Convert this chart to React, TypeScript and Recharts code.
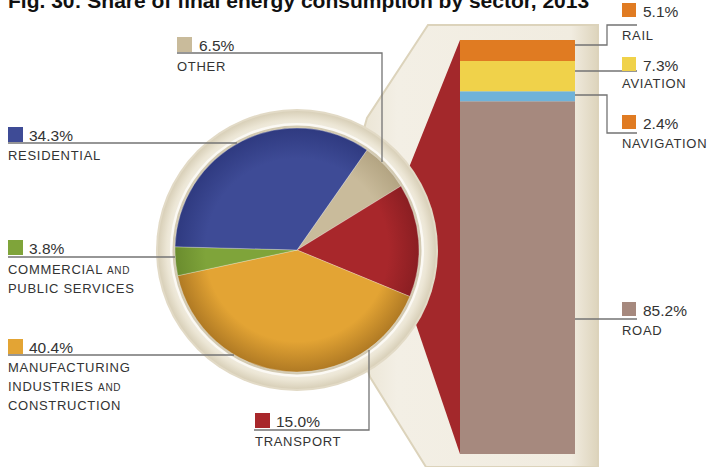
import { PieChart, Pie, Cell, BarChart, Bar, XAxis, YAxis } from "recharts";

// final energy consumption by sector (pie), clockwise from the top-right
const SECTORS = ["other", "transport", "manufacturing", "commercial", "residential"];
const SECTOR_SHARE = [6.5, 15.0, 40.4, 3.8, 34.3];
const SECTOR_LABELS = [
  ["OTHER"],
  ["TRANSPORT"],
  ["MANUFACTURING", "INDUSTRIES |AND", "CONSTRUCTION"],
  ["COMMERCIAL |AND", "PUBLIC SERVICES"],
  ["RESIDENTIAL"],
];

// transport split (stacked bar), bottom to top
const MODES = ["road", "navigation", "aviation", "rail"];
const MODE_SHARE = [85.2, 2.4, 7.3, 5.1];
const MODE_LABELS = ["ROAD", "NAVIGATION", "AVIATION", "RAIL"];

const TITLE = "Fig. 30: Share of final energy consumption by sector, 2013";

const SECTOR_COLORS: Record<string, string> = {
  other: "#c9bb9b",
  transport: "#a8272b",
  manufacturing: "#e3a434",
  commercial: "#7fa43a",
  residential: "#3e4b96",
};
const SECTOR_EDGE: Record<string, string> = {
  other: "#b3a482",
  transport: "#8a1e22",
  manufacturing: "#b07a24",
  commercial: "#6a8c2e",
  residential: "#2f3a80",
};
const MODE_COLORS: Record<string, string> = {
  road: "#a6897e",
  navigation: "#6fb2d9",
  aviation: "#f0d24a",
  rail: "#e07b22",
};
// the original uses an orange swatch for navigation
const MODE_SWATCH: Record<string, string> = { ...MODE_COLORS, navigation: "#e07b22" };

const FONT = "'Liberation Sans', Arial, sans-serif";
const INK = "#333";
const LINE = "#737373";

const CX = 297;
const CY = 250;
const R = 122;

// label layout: swatch corner, percent x, first name baseline, leader path
const SECTOR_LAYOUT: Record<string, { x: number; y: number; px: number; ny: number; path: string }> = {
  other: { x: 177, y: 37, px: 199, ny: 71, path: "M177,53 H382 V162" },
  transport: { x: 255, y: 413, px: 276, ny: 446, path: "M254,430 H369 V350" },
  manufacturing: { x: 8, y: 339, px: 29, ny: 372, path: "M8,355 H234" },
  commercial: { x: 8, y: 240, px: 29, ny: 274, path: "M8,257 H175" },
  residential: { x: 8, y: 127, px: 29, ny: 160, path: "M8,143 H237" },
};
const MODE_LAYOUT: Record<string, { y: number; ny: number; path: string }> = {
  rail: { y: 3, ny: 40, path: "M575,45 H607 V25 H637" },
  aviation: { y: 57, ny: 88, path: "M575,71 H637" },
  navigation: { y: 115, ny: 148, path: "M575,95 H607 V133 H637" },
  road: { y: 302, ny: 335, path: "M575,319 H637" },
};

const pieData = SECTORS.map((s, i) => ({ name: s, value: SECTOR_SHARE[i] }));
const barRow: Record<string, any> = { name: "transport" };
MODES.forEach((m, i) => (barRow[m] = MODE_SHARE[i]));
const barData = [barRow];

const pct = (v: number) => `${v.toFixed(1)}%`;

function NameLine({ text, x, y }: { text: string; x: number; y: number }) {
  const [head, small] = text.split("|");
  return (
    <text x={x} y={y} fontFamily={FONT} fontSize={13} letterSpacing={0.7} fill={INK}>
      {head}
      {small && <tspan fontSize={10}>{small}</tspan>}
    </text>
  );
}

export default function App() {
  return (
    <div
      style={{
        position: "absolute",
        left: 0,
        top: 0,
        width: 708,
        height: 467,
        overflow: "hidden",
        background: "#fff",
      }}
    >
      {/* backdrop: magnifier panel, red wedge, ring */}
      <svg width={708} height={467} style={{ position: "absolute", left: 0, top: 0 }}>
        <defs>
          {SECTORS.map((s) => (
            <radialGradient key={s} id={`g-${s}`} gradientUnits="userSpaceOnUse" cx={150} cy={150} r={R}>
              <stop offset="0%" stopColor={SECTOR_COLORS[s]} />
              <stop offset="75%" stopColor={SECTOR_COLORS[s]} />
              <stop offset="100%" stopColor={SECTOR_EDGE[s]} />
            </radialGradient>
          ))}
          <linearGradient id="panel" x1="0" y1="0" x2="1" y2="0">
            <stop offset="0%" stopColor="#e4dcc6" />
            <stop offset="25%" stopColor="#f3efe5" />
            <stop offset="90%" stopColor="#f1ece0" />
            <stop offset="100%" stopColor="#ddd4bc" />
          </linearGradient>
          <radialGradient id="ring" gradientUnits="userSpaceOnUse" cx={CX} cy={CY} r={140}>
            <stop offset="86%" stopColor="#f6f3eb" />
            <stop offset="93%" stopColor="#ece6d5" />
            <stop offset="100%" stopColor="#d6cdb5" />
          </radialGradient>
        </defs>
        <polygon
          points="428,25 598,25 598,467 426,467 370,377 330,250 367,118"
          fill="url(#panel)"
          stroke="#dcd3bb"
          strokeWidth={2}
        />
        <polygon points="460,40 460,454 407,298 400,190" fill="#a3282b" />
        <circle cx={CX} cy={CY} r={141} fill="#e2dac6" />
        <circle cx={CX} cy={CY} r={139} fill="url(#ring)" />
        <circle cx={CX} cy={CY} r={127} fill="#fbf9f4" />
        <circle cx={CX} cy={CY} r={124.5} fill="#d3cab2" />
      </svg>

      <div style={{ position: "absolute", left: CX - 150, top: CY - 150 }}>
        <PieChart width={300} height={300} margin={{ top: 0, right: 0, bottom: 0, left: 0 }}>
          <Pie
            data={pieData}
            dataKey="value"
            nameKey="name"
            cx={150}
            cy={150}
            innerRadius={0}
            outerRadius={R}
            startAngle={55}
            endAngle={-305}
            stroke="rgba(255,255,255,0.35)"
            strokeWidth={0.8}
            isAnimationActive={false}
          >
            {pieData.map((d) => (
              <Cell key={d.name} fill={`url(#g-${d.name})`} />
            ))}
          </Pie>
        </PieChart>
      </div>

      <div style={{ position: "absolute", left: 460, top: 40 }}>
        <BarChart
          width={115}
          height={414}
          data={barData}
          margin={{ top: 0, right: 0, bottom: 0, left: 0 }}
          barCategoryGap={0}
        >
          <XAxis dataKey="name" hide />
          <YAxis hide domain={[0, 100]} />
          {MODES.map((m) => (
            <Bar key={m} dataKey={m} stackId="t" fill={MODE_COLORS[m]} isAnimationActive={false} />
          ))}
        </BarChart>
      </div>

      {/* title, leaders and labels */}
      <svg
        width={708}
        height={467}
        style={{ position: "absolute", left: 0, top: 0, pointerEvents: "none" }}
      >
        <text x={8} y={8} fontFamily={FONT} fontSize={21} fontWeight="bold" fill="#111">
          {TITLE}
        </text>
        {SECTORS.map((s, i) => {
          const L = SECTOR_LAYOUT[s];
          return (
            <g key={s}>
              <path d={L.path} fill="none" stroke={LINE} strokeWidth={1.3} />
              <rect x={L.x} y={L.y} width={15} height={15} fill={SECTOR_COLORS[s]} />
              <text x={L.px} y={L.y + 14} fontFamily={FONT} fontSize={15.5} fill={INK}>
                {pct(SECTOR_SHARE[i])}
              </text>
              {SECTOR_LABELS[i].map((t, k) => (
                <NameLine key={k} text={t} x={L.x} y={L.ny + k * 19} />
              ))}
            </g>
          );
        })}
        {MODES.map((m, i) => {
          const L = MODE_LAYOUT[m];
          return (
            <g key={m}>
              <path d={L.path} fill="none" stroke={LINE} strokeWidth={1.3} />
              <rect x={622} y={L.y} width={14} height={14} fill={MODE_SWATCH[m]} />
              <text x={643} y={L.y + 14} fontFamily={FONT} fontSize={15.5} fill={INK}>
                {pct(MODE_SHARE[i])}
              </text>
              <NameLine text={MODE_LABELS[i]} x={622} y={L.ny} />
            </g>
          );
        })}
      </svg>
    </div>
  );
}
